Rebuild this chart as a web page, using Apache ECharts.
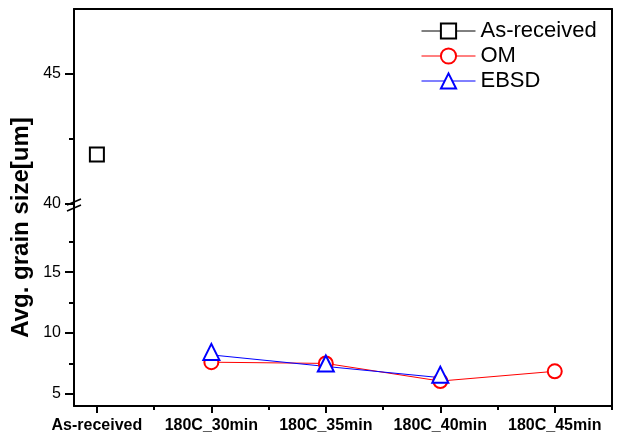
<!DOCTYPE html>
<html>
<head>
<meta charset="utf-8">
<script src="https://cdn.jsdelivr.net/npm/echarts@6/dist/echarts.min.js"></script>
<style>html,body{margin:0;padding:0;background:#fff;}#main{width:626px;height:447px;}</style>
</head>
<body>
<div id="main"></div>
<script>
// ---- data ----
const categories = ['As-received', '180C_30min', '180C_35min', '180C_40min', '180C_45min'];
const asReceivedValues = [41.9, null, null, null, null];
const omValues = [null, 7.6, 7.5, 6.05, 6.85];
const ebsdValues = [null, 8.2, 7.25, 6.33, null];
const upperMajorTicks = [40, 45];
const upperMinorTicks = [42.5];
const lowerMajorTicks = [5, 10, 15];
const lowerMinorTicks = [7.5, 12.5, 17.5];
const xMajorTicks = [0, 1, 2, 3, 4];
const xMinorTicks = [0.5, 1.5, 2.5, 3.5, 4.5];
const yTitle = 'Avg. grain size[um]';

const X_MIN = -0.2, X_MAX = 4.5;
const UP_MIN = 40, UP_MAX = 47.5;
const LO_MIN = 4, LO_MAX = 20.6;

function toPairs(vals) {
  const out = [];
  vals.forEach((v, i) => { if (v != null) out.push([i, v]); });
  return out;
}

const FONT = 'Liberation Sans, Arial, sans-serif';
const BLACK = '#000';
const lineAx = { show: true, onZero: false, lineStyle: { color: BLACK, width: 2 } };
const noLine = { show: false, onZero: false };

function xAx(grid, opts) {
  return Object.assign({
    gridIndex: grid, type: 'value', min: X_MIN, max: X_MAX,
    splitLine: { show: false }, axisLine: noLine,
    axisTick: { show: false }, axisLabel: { show: false }
  }, opts);
}
function yAx(grid, min, max, opts) {
  return Object.assign({
    gridIndex: grid, type: 'value', min: min, max: max,
    splitLine: { show: false }, axisLine: noLine,
    axisTick: { show: false }, axisLabel: { show: false }
  }, opts);
}

const chart = echarts.init(document.getElementById('main'));
const option = {
  animation: false,
  backgroundColor: '#fff',
  grid: [
    { left: 74, right: 14, top: 9, height: 195 },
    { left: 74, right: 14, top: 204, bottom: 41 },
    { left: 74, right: 14, top: 9, height: 195 },
    { left: 74, right: 14, top: 204, bottom: 41 }
  ],
  xAxis: [
    xAx(0, { position: 'top', axisLine: lineAx }),
    xAx(1, {
      position: 'bottom', axisLine: lineAx,
      axisTick: { show: true, customValues: xMajorTicks, length: 7, lineStyle: { color: BLACK, width: 2 } },
      axisLabel: {
        show: true, customValues: xMajorTicks, margin: 12,
        formatter: v => categories[Math.round(v)],
        fontFamily: FONT, fontSize: 16, fontWeight: 'bold', color: BLACK
      }
    }),
    xAx(2, { show: false }),
    xAx(3, {
      position: 'bottom',
      axisTick: { show: true, customValues: xMinorTicks, length: 4, lineStyle: { color: BLACK, width: 2 } }
    })
  ],
  yAxis: [
    yAx(0, UP_MIN, UP_MAX, {
      position: 'left', axisLine: lineAx,
      axisTick: { show: true, customValues: upperMajorTicks, length: 9, lineStyle: { color: BLACK, width: 2 } },
      axisLabel: { show: true, customValues: upperMajorTicks, margin: 13, fontFamily: FONT, fontSize: 16, color: BLACK }
    }),
    yAx(0, UP_MIN, UP_MAX, { position: 'right', axisLine: lineAx }),
    yAx(1, LO_MIN, LO_MAX, {
      position: 'left', axisLine: lineAx,
      axisTick: { show: true, customValues: lowerMajorTicks, length: 9, lineStyle: { color: BLACK, width: 2 } },
      axisLabel: { show: true, customValues: lowerMajorTicks, margin: 13, fontFamily: FONT, fontSize: 16, color: BLACK }
    }),
    yAx(1, LO_MIN, LO_MAX, { position: 'right', axisLine: lineAx }),
    yAx(2, UP_MIN, UP_MAX, {
      position: 'left',
      axisTick: { show: true, customValues: upperMinorTicks, length: 5, lineStyle: { color: BLACK, width: 2 } }
    }),
    yAx(3, LO_MIN, LO_MAX, {
      position: 'left',
      axisTick: { show: true, customValues: lowerMinorTicks, length: 5, lineStyle: { color: BLACK, width: 2 } }
    })
  ],
  legend: {
    orient: 'vertical', left: 416, top: 15,
    itemWidth: 54, itemHeight: 19, itemGap: 3,
    itemStyle: { borderWidth: 1 },
    lineStyle: { width: 1 },
    textStyle: { fontFamily: FONT, fontSize: 22, color: BLACK, lineHeight: 22 },
    data: ['As-received', 'OM', 'EBSD']
  },
  series: [
    {
      name: 'As-received', type: 'line', xAxisIndex: 0, yAxisIndex: 0,
      data: toPairs(asReceivedValues),
      symbol: 'emptyRect', symbolSize: 14,
      itemStyle: { color: BLACK, borderWidth: 1 },
      lineStyle: { color: BLACK, width: 1 }
    },
    {
      name: 'OM', type: 'line', xAxisIndex: 1, yAxisIndex: 2,
      data: toPairs(omValues),
      symbol: 'emptyCircle', symbolSize: 14,
      itemStyle: { color: '#ff0000', borderWidth: 1 },
      lineStyle: { color: '#ff0000', width: 1 }
    },
    {
      name: 'EBSD', type: 'line', xAxisIndex: 1, yAxisIndex: 2,
      data: toPairs(ebsdValues),
      symbol: 'emptyTriangle', symbolSize: 16, symbolOffset: [0, -3],
      itemStyle: { color: '#0000ff', borderWidth: 1 },
      lineStyle: { color: '#0000ff', width: 1 }
    }
  ]
};
chart.setOption(option);

// axis-break marks and rotated axis title
const p = chart.convertToPixel({ gridIndex: 0 }, [X_MIN, UP_MIN]);
const pTop = chart.convertToPixel({ gridIndex: 0 }, [X_MIN, UP_MAX]);
const pBot = chart.convertToPixel({ gridIndex: 1 }, [X_MIN, LO_MIN]);
chart.setOption({
  graphic: [
    { type: 'line', shape: { x1: p[0] - 7, y1: p[1] + 1, x2: p[0] + 7, y2: p[1] - 5 }, style: { stroke: BLACK, lineWidth: 1.5 } },
    { type: 'line', shape: { x1: p[0] - 7, y1: p[1] + 7, x2: p[0] + 7, y2: p[1] + 1 }, style: { stroke: BLACK, lineWidth: 1.5 } },
    {
      type: 'text', x: 21, y: (pTop[1] + pBot[1]) / 2 + 20, rotation: Math.PI / 2,
      style: { text: yTitle, fontFamily: FONT, fontSize: 24, fontWeight: 'bold', fill: BLACK, align: 'center', verticalAlign: 'middle' }
    }
  ]
});
</script>
</body>
</html>
